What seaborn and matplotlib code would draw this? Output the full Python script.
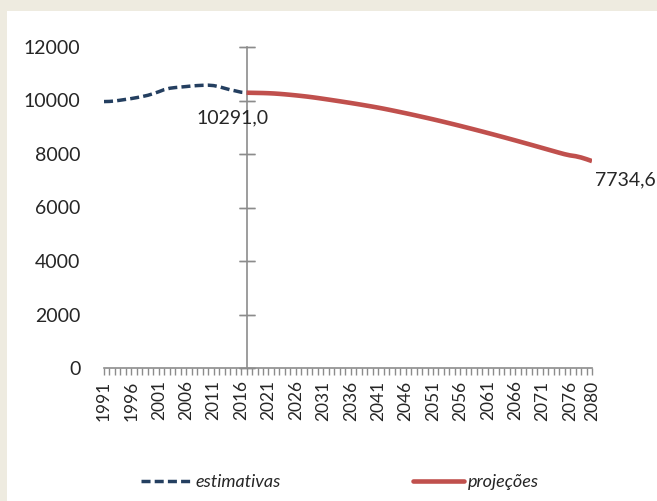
import matplotlib
matplotlib.use("Agg")
import matplotlib.pyplot as plt
from matplotlib.patches import Rectangle
from matplotlib.lines import Line2D
import seaborn as sns
import pandas as pd

# Resident population (thousands)
years_est = list(range(1991, 2018))
pop_est = [9960, 9965, 9983, 10012, 10043, 10073, 10109, 10149, 10195, 10257,
           10329, 10408, 10458, 10484, 10503, 10522, 10543, 10558, 10568, 10573,
           10557, 10515, 10457, 10401, 10358, 10310, 10291.0]

years_proj = list(range(2017, 2081))
pop_proj = [10291.0, 10287, 10283, 10279, 10272, 10262, 10248, 10231, 10212, 10192,
            10170, 10147, 10121, 10093, 10063, 10033, 10002, 9971, 9939, 9907,
            9874, 9840, 9805, 9770, 9733, 9694, 9653, 9611, 9568, 9525,
            9481, 9436, 9390, 9344, 9297, 9249, 9200, 9150, 9100, 9049,
            8997, 8945, 8892, 8839, 8785, 8731, 8676, 8621, 8565, 8509,
            8452, 8395, 8338, 8280, 8222, 8164, 8106, 8048, 7993, 7948,
            7918, 7870, 7806, 7734.6]

label_est = "estimativas"
label_proj = "projeções"
tick_years = [1991, 1996, 2001, 2006, 2011, 2016, 2021, 2026, 2031, 2036,
              2041, 2046, 2051, 2056, 2061, 2066, 2071, 2076, 2080]
y_ticks = [0, 2000, 4000, 6000, 8000, 10000, 12000]

sns.set_style("white")
plt.rcParams["font.family"] = ["Lato", "DejaVu Sans"]

C_EST = "#243F60"
C_PROJ = "#C0504D"
AXIS_GREY = "#8C8C8C"
FRAME = "#EEEBE0"
EST_DASH = (0, (2.6, 1.2))

W, H = 657, 501
fig = plt.figure(figsize=(W / 100, H / 100), dpi=100, facecolor=FRAME)
fig.patches.append(Rectangle((7 / W, 0), 1, 1 - 11 / H, transform=fig.transFigure,
                             facecolor="white", edgecolor="none", zorder=-10))

ax = fig.add_axes([104 / W, 1 - 368 / H, 488 / W, 321 / H])
ax.set_facecolor("none")

df_est = pd.DataFrame({"ano": years_est, "pop": pop_est})
df_proj = pd.DataFrame({"ano": years_proj, "pop": pop_proj})

sns.lineplot(data=df_proj, x="ano", y="pop", ax=ax, color=C_PROJ, lw=3.3,
             solid_capstyle="butt", zorder=3)
sns.lineplot(data=df_est, x="ano", y="pop", ax=ax, color=C_EST, lw=2.5, zorder=4)
ax.lines[-1].set_linestyle(EST_DASH)
ax.lines[-1].set_dash_capstyle("butt")

x0, x1 = years_est[0], years_proj[-1]
ax.set_xlim(x0, x1)
ax.set_ylim(y_ticks[0], y_ticks[-1])
ax.set_xlabel("")
ax.set_ylabel("")

# Category axis: one tick per year, labels every five years
ax.set_xticks(list(range(x0, x1 + 1)), minor=True)
ax.set_xticks(tick_years)
ax.set_xticklabels([str(t) for t in tick_years], rotation=90, fontsize=12.5)
ax.tick_params(axis="x", which="both", bottom=True, direction="out", length=5,
               width=1, color=AXIS_GREY, pad=4)

# Value labels sit at the left edge, while the value axis crosses at the base year
ax.set_yticks(y_ticks)
ax.set_yticklabels([str(v) for v in y_ticks], fontsize=14)
ax.tick_params(axis="y", left=False, length=0, pad=17)

for side in ["top", "right", "left"]:
    ax.spines[side].set_visible(False)
ax.spines["bottom"].set_color(AXIS_GREY)
ax.spines["bottom"].set_linewidth(1.2)

cross = (years_est[-1] - x0) / (x1 - x0)
sec = ax.secondary_yaxis(cross)
sec.set_yticks(y_ticks)
sec.set_yticklabels([])
sec.tick_params(axis="y", right=True, direction="inout", length=12, width=1,
                color=AXIS_GREY)
for s in sec.spines.values():
    s.set_color(AXIS_GREY)
    s.set_linewidth(1.2)

ax.annotate(f"{pop_est[-1]:.1f}".replace(".", ","), xy=(years_est[-1], pop_est[-1]),
            xytext=(-14, -25), textcoords="offset pixels", ha="center", va="center",
            fontsize=14, zorder=5)
ax.annotate(f"{pop_proj[-1]:.1f}".replace(".", ","), xy=(years_proj[-1], pop_proj[-1]),
            xytext=(3, -19), textcoords="offset pixels", ha="left", va="center",
            fontsize=14, annotation_clip=False, zorder=5)

handles = [Line2D([], [], color=C_EST, lw=2.5, linestyle=EST_DASH),
           Line2D([], [], color=C_PROJ, lw=3.3)]
fig.legend(handles, [label_est, label_proj], loc="center",
           bbox_to_anchor=(340 / W, 1 - 482 / H), ncol=2, frameon=False,
           prop={"style": "italic", "size": 13}, handlelength=2.8,
           handletextpad=0.22, columnspacing=7.3)

fig.savefig("out.png", dpi=100, facecolor=FRAME)
